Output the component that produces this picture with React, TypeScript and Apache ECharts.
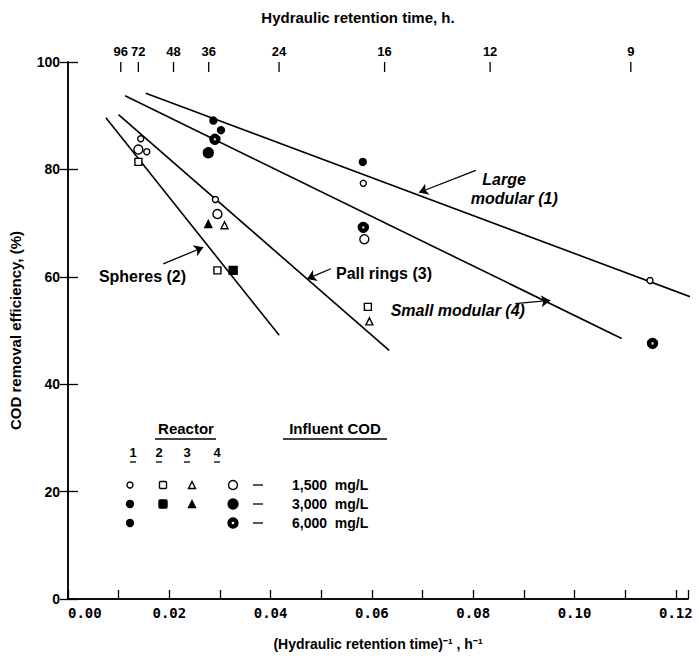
import React, { useEffect, useRef } from "react";
import * as echarts from "echarts";

// ---- Data ----
const topAxisHours = [96, 72, 48, 36, 24, 16, 12, 9];

// Reactor 1 (Large modular), 2 (Spheres), 3 (Pall rings), 4 (Small modular)
const reactor1_1500 = [[0.01436, 85.7], [0.01555, 83.3], [0.0291, 74.4], [0.0583, 77.4], [0.1149, 59.3]];
const reactor1_3000 = [[0.0302, 87.3], [0.0582, 81.4]];
const reactor1_6000 = [[0.0287, 89.1]];
const reactor2_1500 = [[0.0139, 81.4], [0.0295, 61.2], [0.0592, 54.4]];
const reactor2_3000 = [[0.0326, 61.2]];
const reactor3_1500 = [[0.0309, 69.6], [0.0595, 51.7]];
const reactor3_3000 = [[0.0277, 69.8]];
const reactor4_1500 = [[0.0139, 83.7], [0.0295, 71.7], [0.0585, 67.0]];
const reactor4_3000 = [[0.0277, 83.1]];
const reactor4_6000 = [[0.029, 85.6], [0.0583, 69.2], [0.1154, 47.6]];

// Fitted lines
const fitLargeModular = [[0.01535, 94.2], [0.1228, 56.3]];
const fitSmallModular = [[0.01127, 93.7], [0.1093, 48.5]];
const fitPallRings = [[0.00997, 90.2], [0.0634, 46.3]];
const fitSpheres = [[0.00748, 89.6], [0.0417, 49.1]];

// Annotation arrows [tail, head] in data units
const arrowLarge = [[0.0805, 79.8], [0.0693, 75.7]];
const arrowSmall = [[0.0883, 55.0], [0.0952, 55.6]];
const arrowPall = [[0.0519, 61.5], [0.0472, 59.6]];
const arrowSpheres = [[0.0188, 62.4], [0.0267, 65.5]];

const annotations = [
  { text: "Large", at: [0.0818, 78.1], italic: true },
  { text: "modular (1)", at: [0.0795, 74.6], italic: true },
  { text: "Spheres (2)", at: [0.0061, 60.0], italic: false },
  { text: "Pall rings (3)", at: [0.0529, 60.6], italic: false },
  { text: "Small modular (4)", at: [0.0637, 53.7], italic: true },
];

const FONT = "'Liberation Sans', Arial, sans-serif";
const XMAX = 0.1224;

function scatter(data: number[][], symbol: string, size: number, filled: boolean, z = 5) {
  return {
    type: "scatter",
    data,
    symbol,
    symbolSize: size,
    itemStyle: { color: filled ? "#000" : "#fff", borderColor: "#000", borderWidth: 1.4, opacity: 1 },
    z,
    silent: true,
  };
}

function fitLine(data: number[][], arrow: number[][]) {
  return {
    type: "line",
    data,
    symbol: "none",
    lineStyle: { color: "#000", width: 1.6 },
    z: 3,
    silent: true,
    markLine: {
      silent: true,
      symbol: ["none", "arrow"],
      symbolSize: 9,
      label: { show: false },
      lineStyle: { color: "#000", width: 1.3, type: "solid" },
      data: [[{ coord: arrow[0] }, { coord: arrow[1] }]],
    },
  };
}

export default function App() {
  const ref = useRef<HTMLDivElement>(null);
  useEffect(() => {
    const chart = echarts.init(ref.current!, null, { renderer: "svg" });
    const axisLine = { show: true, lineStyle: { color: "#000", width: 1.5 } };
    const option: any = {
      animation: false,
      backgroundColor: "#fff",
      grid: { left: 66, top: 62, width: 622, height: 540, containLabel: false },
      xAxis: [
        {
          type: "value",
          position: "bottom",
          min: 0,
          max: XMAX,
          interval: 0.01,
          axisLine,
          splitLine: { show: false },
          axisTick: { inside: true, length: 9, lineStyle: { color: "#000", width: 1.3 } },
          axisLabel: {
            interval: 0,
            margin: 7,
            alignMinLabel: "left",
            color: "#000",
            fontFamily: "'DejaVu Sans Mono', monospace",
            fontWeight: "bold",
            fontSize: 14,
            formatter: (v: number) => {
              const k = Math.round(v * 100);
              if (Math.abs(v * 100 - k) > 1e-6 || k % 2 !== 0) return "";
              return v.toFixed(2);
            },
          },
          name: "(Hydraulic retention time)\u207B\u00B9 , h\u207B\u00B9",
          nameLocation: "middle",
          nameGap: 38,
          nameTextStyle: { color: "#000", fontFamily: FONT, fontWeight: "bold", fontSize: 14 },
        },
        {
          type: "value",
          position: "top",
          min: 0,
          max: XMAX,
          axisLine,
          splitLine: { show: false },
          axisTick: { show: false },
          axisLabel: {
            customValues: topAxisHours.map((h) => 1 / h),
            margin: 4,
            color: "#000",
            fontFamily: FONT,
            fontWeight: "bold",
            fontSize: 13,
            formatter: (v: number) => String(Math.round(1 / v)),
          },
        },
      ],
      yAxis: [
        {
          type: "value",
          position: "left",
          min: 0,
          max: 100,
          interval: 20,
          axisLine,
          splitLine: { show: false },
          axisTick: { inside: true, length: 10, lineStyle: { color: "#000", width: 1.3 } },
          axisLabel: { margin: 8, color: "#000", fontFamily: FONT, fontWeight: "bold", fontSize: 14 },
          name: "COD removal efficiency, (%)",
          nameLocation: "middle",
          nameRotate: 90,
          nameGap: 45,
          nameTextStyle: { color: "#000", fontFamily: FONT, fontWeight: "bold", fontSize: 15 },
        },
        {
          type: "value",
          position: "right",
          min: 0,
          max: 100,
          interval: 20,
          axisLine,
          splitLine: { show: false },
          axisTick: { inside: true, length: 8, lineStyle: { color: "#000", width: 1.3 } },
          axisLabel: { show: false },
        },
      ],
      series: [
        fitLine(fitLargeModular, arrowLarge),
        fitLine(fitSmallModular, arrowSmall),
        fitLine(fitPallRings, arrowPall),
        fitLine(fitSpheres, arrowSpheres),
        scatter(reactor1_1500, "circle", 6, false),
        scatter(reactor1_3000, "circle", 7, true),
        scatter(reactor1_6000, "circle", 7, true),
        scatter(reactor2_1500, "rect", 7, false),
        scatter(reactor2_3000, "rect", 8, true),
        scatter(reactor3_1500, "triangle", 7, false),
        scatter(reactor3_3000, "triangle", 7, true),
        scatter(reactor4_1500, "circle", 9, false),
        scatter(reactor4_3000, "circle", 10, true),
        scatter(reactor4_6000, "circle", 10, true),
        { ...scatter(reactor4_6000, "circle", 2.5, false, 6), itemStyle: { color: "#fff", borderWidth: 0 } },
      ],
    };
    chart.setOption(option);

    const toPx = (p: number[]) => chart.convertToPixel({ gridIndex: 0 }, p) as number[];
    const txt = (text: string, x: number, y: number, size: number, align = "left", italic = false) => ({
      type: "text",
      x,
      y,
      z: 10,
      style: {
        text,
        fill: "#000",
        fontFamily: FONT,
        fontWeight: "bold",
        fontStyle: italic ? "italic" : "normal",
        fontSize: size,
        align,
        verticalAlign: "middle",
      },
    });
    const ln = (x1: number, y1: number, x2: number, y2: number, w = 1.3) => ({
      type: "line",
      z: 10,
      shape: { x1, y1, x2, y2 },
      style: { stroke: "#000", lineWidth: w },
    });
    const circ = (cx: number, cy: number, r: number, filled: boolean) => ({
      type: "circle",
      z: 10,
      shape: { cx, cy, r },
      style: { fill: filled ? "#000" : "#fff", stroke: "#000", lineWidth: 1.4 },
    });
    const sq = (cx: number, cy: number, s: number, filled: boolean) => ({
      type: "rect",
      z: 10,
      shape: { x: cx - s / 2, y: cy - s / 2, width: s, height: s, r: 1 },
      style: { fill: filled ? "#000" : "#fff", stroke: "#000", lineWidth: 1.4 },
    });
    const tri = (cx: number, cy: number, s: number, filled: boolean) => ({
      type: "polygon",
      z: 10,
      shape: { points: [[cx, cy - s / 2], [cx + s / 2, cy + s / 2], [cx - s / 2, cy + s / 2]] },
      style: { fill: filled ? "#000" : "#fff", stroke: "#000", lineWidth: 1.4 },
    });

    // top-axis ticks at 1/h, pointing into the plot
    const topTicks = topAxisHours.map((h) => {
      const p = toPx([1 / h, 100]);
      return ln(p[0], p[1], p[0], p[1] + 10);
    });

    const rows = [485, 504, 523];
    const cols = [130, 163, 192, 233];
    const legend: any[] = [
      txt("Reactor", 186, 428, 15, "center"),
      ln(155, 439, 216, 439),
      txt("Influent COD", 335, 428, 15, "center"),
      ln(283, 439, 387, 439),
      txt("1", 133, 452, 13, "center"),
      txt("2", 159, 452, 13, "center"),
      txt("3", 187, 452, 13, "center"),
      txt("4", 217, 452, 13, "center"),
      ln(130, 462, 136, 462),
      ln(156, 462, 162, 462),
      ln(184, 462, 190, 462),
      ln(214, 462, 220, 462),
      circ(cols[0], rows[0], 3, false),
      sq(cols[1], rows[0], 7, false),
      tri(cols[2], rows[0], 7, false),
      circ(cols[3], rows[0], 4.5, false),
      circ(cols[0], rows[1], 3.5, true),
      sq(cols[1], rows[1], 8, true),
      tri(cols[2], rows[1], 7, true),
      circ(cols[3], rows[1], 5, true),
      circ(cols[0], rows[2], 3.5, true),
      circ(cols[3], rows[2], 5, true),
      { type: "circle", z: 11, shape: { cx: cols[3], cy: rows[2], r: 1.3 }, style: { fill: "#fff" } },
      ln(253, rows[0], 263, rows[0]),
      ln(253, rows[1], 263, rows[1]),
      ln(253, rows[2], 263, rows[2]),
      txt("1,500  mg/L", 292, rows[0], 14),
      txt("3,000  mg/L", 292, rows[1], 14),
      txt("6,000  mg/L", 292, rows[2], 14),
      txt("Hydraulic retention time, h.", 358, 17, 15, "center"),
    ];
    const annot = annotations.map((a) => {
      const p = toPx(a.at);
      return txt(a.text, p[0], p[1], 16, "left", a.italic);
    });
    chart.setOption({ graphic: [...topTicks, ...legend, ...annot] });
    return () => chart.dispose();
  }, []);
  return <div ref={ref} style={{ position: "absolute", left: 0, top: 0, width: 699, height: 656 }} />;
}
